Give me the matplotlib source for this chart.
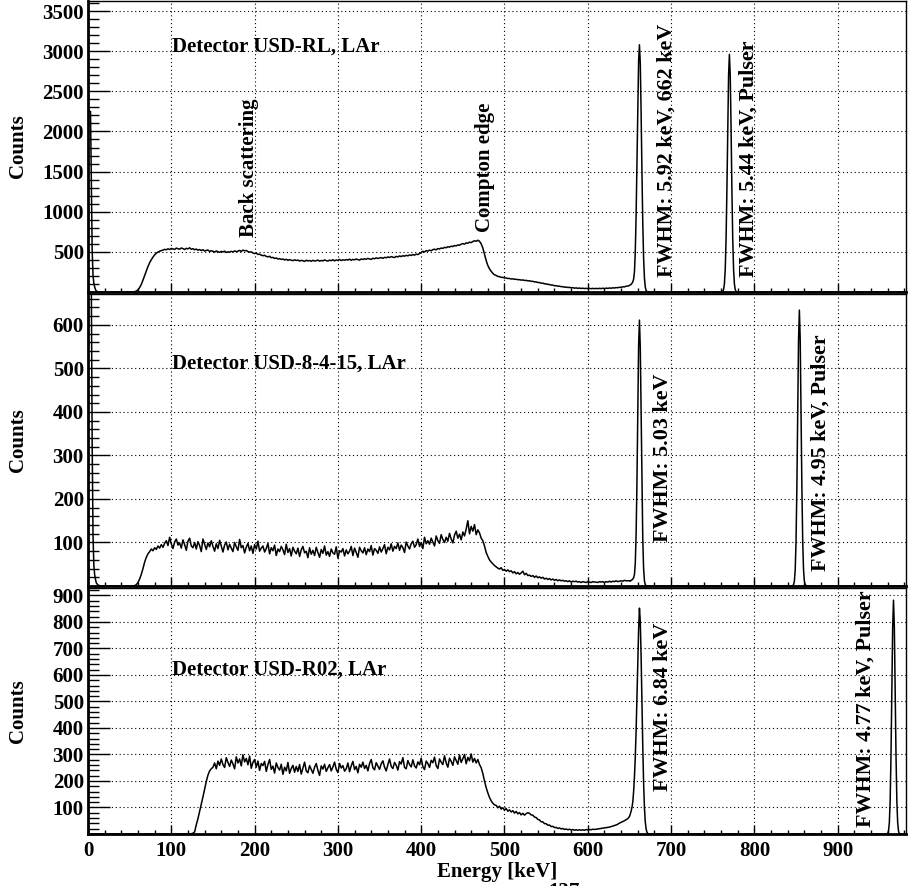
import numpy as np
import matplotlib
matplotlib.use("Agg")
import matplotlib.pyplot as plt
from matplotlib.ticker import MultipleLocator, NullFormatter

plt.rcParams["font.family"] = ["Liberation Serif", "DejaVu Serif"]
plt.rcParams["font.weight"] = "bold"

# energy grids in keV
e_low = np.arange(0, 10)          # threshold region, 1 keV
e_cont = np.arange(10, 650, 2)    # continuum, 2 keV (320 points)
e_peak = np.arange(650, 674)      # 662 keV line, 1 keV
e_end = 982

# --- Detector USD-RL ---
rl_low = [2250, 2250, 2250, 2250, 1350, 520, 210, 110, 62, 30]
rl_cont = [
    12, 3, 0, 0, 0, 0, 0, 0, 0, 0,
    0, 0, 0, 0, 0, 0, 0, 0, 0, 0,
    0, 0, 1, 4, 12, 28, 55, 95, 148, 205,
    262, 318, 365, 402, 435, 462, 483, 498, 508, 515,
    522, 531, 526, 538, 529, 543, 536, 530, 547, 539,
    533, 548, 541, 529, 544, 537, 551, 532, 540, 526,
    535, 521, 529, 516, 527, 510, 518, 523, 505, 514,
    508, 497, 511, 503, 494, 506, 499, 509, 492, 501,
    496, 507, 499, 512, 503, 509, 518, 506, 522, 513,
    517, 504, 497, 500, 486, 479, 484, 468, 471, 459,
    452, 457, 443, 438, 445, 427, 431, 418, 424, 411,
    415, 406, 411, 399, 408, 394, 403, 397, 390, 401,
    392, 398, 385, 394, 389, 381, 396, 387, 392, 383,
    395, 386, 390, 398, 384, 393, 387, 400, 391, 385,
    397, 390, 402, 388, 399, 394, 405, 392, 401, 396,
    404, 398, 409, 395, 406, 401, 411, 403, 397, 412,
    405, 414, 408, 419, 411, 406, 421, 414, 425, 418,
    423, 429, 419, 432, 426, 437, 430, 441, 434, 429,
    444, 437, 449, 441, 452, 446, 457, 450, 462, 455,
    467, 459, 472, 466, 480, 493, 507, 499, 515, 510,
    521, 514, 528, 533, 525, 541, 536, 548, 543, 556,
    551, 564, 559, 571, 566, 579, 574, 587, 582, 596,
    603, 596, 612, 607, 621, 615, 629, 638, 632, 645,
    632, 600, 548, 470, 392, 330, 288, 258, 232, 214,
    206, 194, 191, 182, 183, 174, 175, 168, 169, 162,
    164, 158, 159, 153, 154, 148, 150, 144, 145, 139,
    140, 133, 133, 126, 126, 118, 118, 110, 110, 102,
    102, 94, 94, 86, 86, 78, 79, 72, 73, 66,
    67, 60, 62, 56, 58, 52, 54, 48, 51, 46,
    49, 44, 47, 43, 46, 42, 45, 41, 45, 41,
    45, 41, 46, 42, 47, 43, 48, 45, 50, 47,
    52, 50, 55, 53, 59, 58, 65, 64, 72, 73,
]
rl_peak = [82, 88, 95, 108, 125, 160, 250, 500, 950, 1580, 2290, 2880,
           3080, 2850, 2240, 1500, 860, 420, 175, 62, 20, 6, 2, 0]
rl_puls_e = np.arange(760, 781)
rl_puls = [0, 2, 7, 30, 102, 285, 660, 1274, 2034, 2697, 2960,
           2697, 2034, 1274, 660, 285, 102, 30, 7, 2, 0]

# --- Detector USD-8-4-15 ---
d8_low = [900, 900, 900, 900, 690, 330, 120, 48, 26, 15]
d8_cont = [
    7, 2, 1, 0, 0, 0, 0, 0, 0, 0,
    0, 0, 0, 0, 0, 0, 0, 0, 0, 0,
    0, 0, 0, 1, 3, 8, 16, 27, 40, 55,
    66, 74, 79, 85, 81, 88, 84, 92, 87, 95,
    89, 98, 104, 93, 112, 97, 86, 101, 108, 94,
    99, 87, 106, 95, 82, 103, 110, 92, 88, 100,
    85, 102, 93, 79, 108, 96, 84, 99, 90, 104,
    91, 80, 97, 86, 105, 92, 78, 94, 101, 83,
    96, 87, 79, 100, 90, 82, 107, 88, 93, 76,
    89, 98, 81, 92, 75, 95, 85, 103, 80, 87,
    92, 78, 86, 98, 74, 88, 81, 94, 70, 85,
    79, 91, 83, 72, 96, 77, 86, 69, 89, 80,
    74, 87, 68, 83, 91, 76, 80, 65, 88, 73,
    82, 70, 89, 77, 66, 84, 75, 92, 71, 79,
    68, 85, 76, 73, 90, 64, 81, 78, 86, 69,
    83, 74, 80, 91, 70, 87, 77, 66, 89, 81,
    76, 88, 72, 85, 79, 93, 71, 86, 82, 75,
    90, 78, 86, 95, 74, 89, 83, 97, 80, 91,
    86, 99, 82, 94, 88, 77, 101, 92, 85, 97,
    103, 89, 95, 108, 91, 100, 86, 112, 97, 104,
    96, 110, 101, 92, 115, 104, 98, 118, 107, 100,
    112, 103, 121, 108, 99, 117, 126, 110, 119, 106,
    124, 115, 131, 150, 120, 137, 126, 141, 118, 129,
    122, 110, 104, 92, 77, 68, 60, 55, 51, 47,
    44, 41, 39, 42, 36, 38, 34, 37, 33, 35,
    30, 33, 28, 31, 27, 30, 34, 26, 29, 24,
    25, 22, 24, 20, 23, 19, 21, 18, 20, 16,
    18, 15, 17, 14, 16, 13, 15, 12, 14, 12,
    13, 11, 12, 10, 12, 9, 11, 10, 11, 9,
    10, 8, 10, 9, 8, 10, 9, 8, 10, 9,
    9, 8, 10, 9, 10, 8, 10, 9, 11, 9,
    11, 10, 12, 10, 11, 12, 11, 13, 12, 12,
]
d8_peak = [12, 11, 13, 14, 16, 19, 26, 52, 118, 238, 400, 552,
           611, 548, 395, 229, 107, 40, 12, 3, 1, 0, 0, 0]
d8_puls_e = np.arange(845, 864)
d8_puls = [0, 1, 3, 11, 37, 103, 228, 403, 566, 634,
           566, 403, 228, 103, 37, 11, 3, 1, 0]

# --- Detector USD-R02 ---
r02_low = [0, 0, 0, 0, 0, 0, 0, 0, 0, 0]
r02_cont = [
    0, 0, 0, 0, 0, 0, 0, 0, 0, 0,
    0, 0, 0, 0, 0, 0, 0, 0, 0, 0,
    0, 0, 0, 0, 0, 0, 0, 0, 0, 0,
    0, 0, 0, 0, 0, 0, 0, 0, 0, 0,
    0, 0, 0, 0, 0, 0, 0, 0, 0, 0,
    0, 0, 0, 0, 0, 0, 0, 1, 3, 8,
    35, 58, 85, 112, 140, 170, 198, 222, 238, 246,
    252, 268, 246, 275, 259, 283, 262, 251, 288, 270,
    255, 279, 264, 246, 291, 268, 283, 257, 299, 272,
    285, 261, 294, 248, 270, 281, 252, 275, 240, 266,
    258, 274, 236, 262, 281, 244, 256, 230, 268, 251,
    241, 263, 225, 252, 238, 270, 229, 247, 259, 233,
    255, 236, 262, 226, 249, 271, 238, 231, 258, 244,
    229, 252, 266, 240, 221, 257, 245, 263, 236, 250,
    262, 238, 253, 271, 244, 232, 266, 249, 258, 237,
    246, 268, 235, 257, 274, 243, 255, 231, 263, 252,
    271, 247, 259, 238, 266, 281, 250, 242, 269, 256,
    244, 265, 276, 252, 238, 262, 283, 255, 247, 270,
    259, 241, 273, 264, 288, 251, 246, 277, 262, 253,
    280, 257, 249, 272, 261, 286, 254, 243, 275, 266,
    251, 278, 269, 290, 258, 247, 283, 271, 262, 295,
    268, 252, 286, 274, 259, 291, 277, 263, 298, 270,
    284, 300, 265, 289, 276, 302, 271, 285, 268, 281,
    262, 250, 228, 200, 175, 155, 138, 125, 116, 110,
    108, 99, 105, 94, 99, 90, 96, 86, 91, 83,
    88, 79, 85, 76, 81, 72, 78, 71, 77, 80,
    78, 72, 71, 64, 62, 55, 53, 46, 46, 39,
    39, 33, 34, 28, 29, 24, 25, 21, 23, 19,
    21, 17, 19, 16, 18, 15, 17, 14, 16, 14,
    16, 14, 16, 14, 17, 15, 17, 16, 18, 17,
    18, 19, 20, 21, 22, 23, 24, 25, 26, 28,
    30, 32, 34, 37, 41, 44, 47, 50, 54, 58,
]
r02_peak = [66, 75, 86, 100, 120, 160, 215, 290, 390, 510, 640, 770,
            852, 803, 671, 499, 329, 192, 100, 46, 19, 7, 2, 0]
r02_puls_e = np.arange(959, 976)
r02_puls = [0, 2, 11, 43, 127, 297, 543, 781, 882,
            781, 543, 297, 127, 43, 11, 2, 0]


def spectrum(low, cont, peak, puls_e, puls):
    e = np.concatenate([e_low, e_cont, e_peak, puls_e, [e_end]])
    c = np.concatenate([low, cont, peak, puls, [0]])
    return e, c


panels = [
    dict(data=spectrum(rl_low, rl_cont, rl_peak, rl_puls_e, rl_puls),
         ylim=3625, major=500, minor=100, name="Detector USD-RL, LAr", name_y=3000,
         notes=[(695, 186, "FWHM: 5.92 keV, 662 keV", 15.8),
                (793, 186, "FWHM: 5.44 keV, Pulser", 15.8),
                (193, 680, "Back scattering", 15),
                (477, 743, "Compton edge", 15)],
         box=[88, 1, 906, 292]),
    dict(data=spectrum(d8_low, d8_cont, d8_peak, d8_puls_e, d8_puls),
         ylim=671, major=100, minor=20, name="Detector USD-8-4-15, LAr", name_y=500,
         notes=[(690, 102, "FWHM: 5.03 keV", 15.8),
                (880, 34, "FWHM: 4.95 keV, Pulser", 15.8)],
         box=[88, 294, 906, 586]),
    dict(data=spectrum(r02_low, r02_cont, r02_peak, r02_puls_e, r02_puls),
         ylim=928, major=100, minor=20, name="Detector USD-R02, LAr", name_y=600,
         notes=[(690, 161, "FWHM: 6.84 keV", 15.8),
                (934, 25, "FWHM: 4.77 keV, Pulser", 15.8)],
         box=[88, 588, 906, 834]),
]

W, H = 909, 886
fig = plt.figure(figsize=(W / 100, H / 100), dpi=100)
fs = 15

for i, p in enumerate(panels):
    x0, y0, x1, y1 = p["box"]
    ax = fig.add_axes([x0 / W, (H - y1) / H, (x1 - x0) / W, (y1 - y0) / H])
    e, c = p["data"]
    ax.plot(e, c, color="black", lw=1.1)
    ax.set_xlim(0, e_end)
    ax.set_ylim(0, p["ylim"])

    ax.xaxis.set_major_locator(MultipleLocator(100))
    ax.xaxis.set_minor_locator(MultipleLocator(20))
    ax.yaxis.set_major_locator(MultipleLocator(p["major"]))
    ax.yaxis.set_minor_locator(MultipleLocator(p["minor"]))
    ax.yaxis.set_major_formatter(
        plt.FuncFormatter(lambda v, pos: "" if v <= 0 else f"{v:.0f}"))
    ax.grid(True, which="major", color="black", lw=0.8, linestyle=(0, (1, 2.5)))

    ax.tick_params(axis="y", which="major", direction="in", length=16, width=1.0,
                   labelsize=fs, pad=3)
    ax.tick_params(axis="y", which="minor", direction="in", length=8, width=1.0)
    ax.tick_params(axis="x", which="major", direction="in", length=6.5, width=1.0,
                   labelsize=fs, pad=5)
    ax.tick_params(axis="x", which="minor", direction="in", length=3.2, width=1.0)
    for lab in ax.get_yticklabels() + ax.get_xticklabels():
        lab.set_fontweight("bold")

    for side in ("left", "bottom"):
        ax.spines[side].set_linewidth(2.0)
    for side in ("top", "right"):
        ax.spines[side].set_linewidth(1.0)

    if i < 2:
        ax.xaxis.set_major_formatter(NullFormatter())
    else:
        ax.set_xlabel("Energy [keV]", fontsize=fs, fontweight="bold", labelpad=1)

    ax.text(101, p["name_y"], p["name"], fontsize=fs, fontweight="bold",
            ha="left", va="baseline")
    for ex, cy, txt, size in p["notes"]:
        ax.text(ex, cy, txt, rotation=90, fontsize=size, fontweight="bold",
                ha="center", va="bottom")

    fig.text(18 / W, 1 - (y0 + y1) / 2 / H, "Counts", rotation=90, fontsize=fs,
             fontweight="bold", ha="center", va="center")

# caption line running off the bottom edge
fig.text(564 / W, 4 / H, "137", fontsize=fs, fontweight="bold", ha="center", va="top")

fig.savefig("out.png", dpi=100)
